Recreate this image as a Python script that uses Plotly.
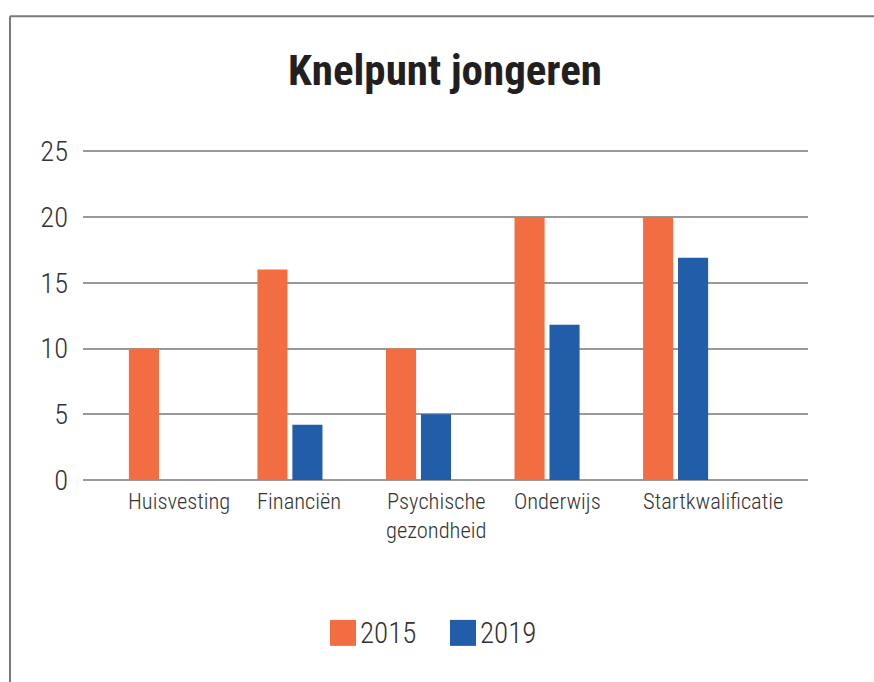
import plotly.graph_objects as go

categories = ["Huisvesting", "Financiën", "Psychische<br>gezondheid", "Onderwijs", "Startkwalificatie"]
series_names = ["2015", "2019"]
values_2015 = [10, 16, 10, 20, 20]
values_2019 = [None, 4.2, 5, 11.8, 16.9]
y_ticks = [0, 5, 10, 15, 20, 25]
title_text = "Knelpunt jongeren"

colors = ["#F26D41", "#215DA8"]
FONT = "Roboto Condensed, Liberation Sans Narrow, Roboto, sans-serif"

Y_TOP = 25.4
W, H = 874, 682
pw = 725
ph = 329 * Y_TOP / 25
L = 83
T = 480 - ph
R, B = W - L - pw, H - T - ph

fig = go.Figure()
fig.add_trace(go.Bar(x=categories, y=values_2015, name=series_names[0],
                     marker=dict(color=colors[0], line=dict(width=0)),
                     width=0.234, offset=-0.253, showlegend=False))
fig.add_trace(go.Bar(x=categories, y=values_2019, name=series_names[1],
                     marker=dict(color=colors[1], line=dict(width=0)),
                     width=0.234, offset=0.019, showlegend=False))

def px_x(x):
    return (x - L) / pw

def px_y(y):
    return 1 - (y - T) / ph

shapes = [
    # frame
    dict(type="line", xref="paper", yref="paper", x0=px_x(10), x1=px_x(880),
         y0=px_y(16), y1=px_y(16), line=dict(color="#7a7a7a", width=2)),
    dict(type="line", xref="paper", yref="paper", x0=px_x(10), x1=px_x(10),
         y0=px_y(16), y1=px_y(690), line=dict(color="#7a7a7a", width=2)),
]
annotations = [
    dict(text="<b>" + title_text + "</b>", xref="paper", yref="paper",
         x=px_x(445), y=px_y(70), xanchor="center", yanchor="middle",
         showarrow=False, font=dict(family=FONT, size=43, color="#231F20")),
]
# category labels, left-aligned at the start of each group
for c in categories:
    annotations.append(dict(text=c, x=c, y=0, xref="x", yref="y",
                            xanchor="left", yanchor="top", xshift=-35, yshift=-6,
                            align="center", showarrow=False,
                            font=dict(family=FONT, size=22.5, color="#333333", weight=300)))
# custom legend
leg_x = [330, 450]
for i, name in enumerate(series_names):
    x0 = leg_x[i]
    shapes.append(dict(type="rect", xref="paper", yref="paper",
                       x0=px_x(x0), x1=px_x(x0 + 26), y0=px_y(620), y1=px_y(646),
                       fillcolor=colors[i], line=dict(width=0)))
    annotations.append(dict(text=name, xref="paper", yref="paper",
                            x=px_x(x0 + 28), y=px_y(633), xanchor="left", yanchor="middle",
                            showarrow=False,
                            font=dict(family=FONT, size=29, color="#333333", weight=300)))

fig.update_layout(
    width=W, height=H,
    margin=dict(l=L, r=R, t=T, b=B, pad=0),
    paper_bgcolor="white", plot_bgcolor="white",
    font=dict(family=FONT, color="#333333"),
    showlegend=False,
    hovermode=False,
    shapes=shapes,
    annotations=annotations,
    xaxis=dict(range=[-0.61, 5.03], type="category", showgrid=False,
               showline=False, ticks="", zeroline=False, showticklabels=False),
    yaxis=dict(range=[0, Y_TOP], tickvals=y_ticks, showgrid=True, gridcolor="#999999",
               gridwidth=1.5, zeroline=True, zerolinecolor="#999999", zerolinewidth=1.5,
               showline=False, ticks="", ticklabelstandoff=14,
               tickfont=dict(family=FONT, size=28.5, color="#333333", weight=300)),
)

fig.write_html("out.html", config={"displayModeBar": False},
               post_script="document.body.style.margin='0';document.body.style.overflow='hidden';")
